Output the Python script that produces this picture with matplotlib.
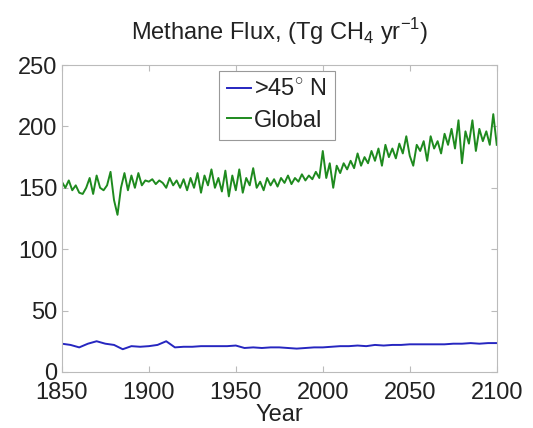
import matplotlib
matplotlib.use("Agg")
import matplotlib.pyplot as plt
import numpy as np

plt.rcParams['font.family'] = ['Liberation Sans', 'DejaVu Sans']
plt.rcParams['mathtext.fontset'] = 'custom'
plt.rcParams['mathtext.rm'] = 'Liberation Sans'

#%% Data
global_years = np.arange(1850, 2101, 2)
global_flux = [
    155, 150, 156, 148, 152, 146, 145, 150, 158, 145,
    160, 150, 148, 152, 163, 140, 128, 150, 162, 148,
    160, 150, 162, 152, 156, 155, 157, 153, 156, 154,
    150, 158, 152, 156, 150, 157, 148, 158, 150, 162,
    146, 160, 152, 165, 150, 158, 147, 164, 143, 160,
    148, 165, 146, 158, 152, 166, 150, 155, 148, 158,
    152, 157, 151, 158, 154, 160, 153, 158, 155, 161,
    156, 160, 157, 163, 158, 180, 158, 170, 150, 168,
    162, 170, 165, 172, 166, 178, 168, 175, 170, 180,
    172, 182, 168, 185, 175, 182, 174, 186, 178, 192,
    176, 168, 185, 180, 188, 172, 192, 182, 188, 178,
    194, 185, 198, 182, 205, 170, 196, 186, 205, 180,
    198, 188, 196, 185, 210, 185,
]

north_years = np.arange(1850, 2101, 5)
north_flux = [
    23, 22, 20, 23, 25, 23, 22, 18.5, 21, 20.5,
    21, 22, 25, 20, 20.5, 20.5, 21, 21, 21, 21,
    21.5, 19.5, 20, 19.5, 20, 20, 19.5, 19, 19.5, 20,
    20, 20.5, 21, 21, 21.5, 21, 22, 21.5, 22, 22,
    22.5, 22.5, 22.5, 22.5, 22.5, 23, 23, 23.5, 23, 23.5,
    23.5,
]

#%% Plotting
fig = plt.figure(figsize=(5.33, 4.28), dpi=100)
ax = fig.add_axes([0.116, 0.131, 0.816, 0.717])

ax.plot(north_years, north_flux, color='#2626c0', lw=1.4, label=r'>45$^{\circ}$ N')
ax.plot(global_years, global_flux, color='#1e8a1e', lw=1.4, label='Global')

ax.set_xlim(1850, 2100)
ax.set_ylim(0, 250)
ax.set_xticks(range(1850, 2101, 50))
ax.set_yticks(range(0, 251, 50))
ax.tick_params(direction='in', top=True, right=True, labelsize=17,
               color='#bbbbbb', length=4, labelcolor='#222222')
ax.tick_params(axis='y', pad=3)
ax.tick_params(axis='x', pad=7)
for s in ax.spines.values():
    s.set_color('#bbbbbb')

ax.set_title(r'Methane Flux, (Tg CH$_4$ yr$^{-1}$)', fontsize=17, pad=18,
             color='#222222')
ax.set_xlabel('Year', fontsize=17, labelpad=0, color='#222222')

leg = ax.legend(loc='upper center', fontsize=17, handlelength=1.0,
                handletextpad=0.12, borderpad=0.35, labelspacing=0.35,
                borderaxespad=0.25, fancybox=False, framealpha=1,
                bbox_to_anchor=(0.495, 1.0))
leg.get_frame().set_edgecolor('#999999')
leg.get_frame().set_linewidth(0.8)
for t in leg.get_texts():
    t.set_color('#222222')

fig.savefig('out.png', dpi=100)
